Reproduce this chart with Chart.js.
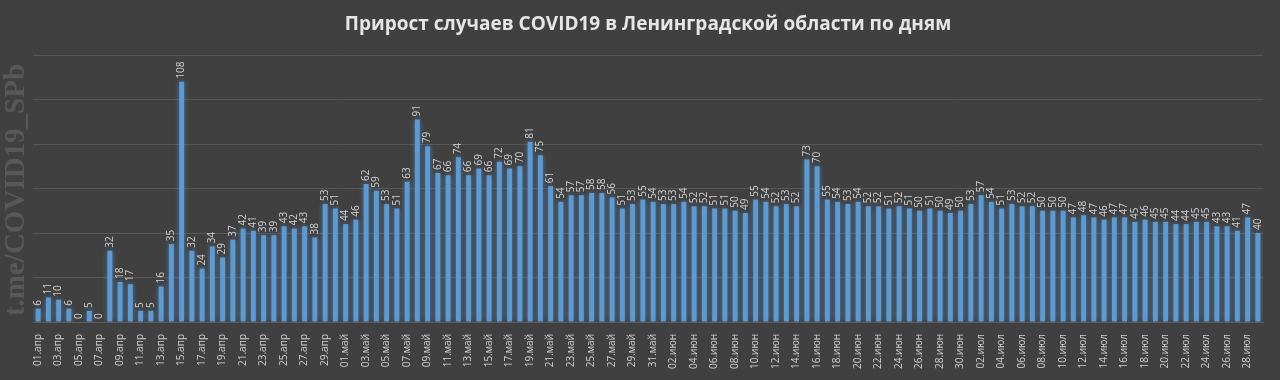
<!DOCTYPE html>
<html>
<head>
<meta charset="utf-8">
<script src="https://cdn.jsdelivr.net/npm/chart.js@4.4.1/dist/chart.umd.min.js"></script>
<style>
  html, body { margin: 0; padding: 0; background: #404040; }
  #wrap { width: 1280px; height: 380px; }
</style>
</head>
<body>
<div id="wrap"><canvas id="c" width="1280" height="380"></canvas></div>
<script>
const titleText = 'Прирост случаев COVID19 в Ленинградской области по дням';
const watermarkText = 't.me/COVID19_SPb';

const labelsApr = ['01.апр','02.апр','03.апр','04.апр','05.апр','06.апр','07.апр','08.апр','09.апр','10.апр',
  '11.апр','12.апр','13.апр','14.апр','15.апр','16.апр','17.апр','18.апр','19.апр','20.апр',
  '21.апр','22.апр','23.апр','24.апр','25.апр','26.апр','27.апр','28.апр','29.апр','30.апр'];
const labelsMay = ['01.май','02.май','03.май','04.май','05.май','06.май','07.май','08.май','09.май','10.май',
  '11.май','12.май','13.май','14.май','15.май','16.май','17.май','18.май','19.май','20.май',
  '21.май','22.май','23.май','24.май','25.май','26.май','27.май','28.май','29.май','30.май','31.май'];
const labelsJun = ['01.июн','02.июн','03.июн','04.июн','05.июн','06.июн','07.июн','08.июн','09.июн','10.июн',
  '11.июн','12.июн','13.июн','14.июн','15.июн','16.июн','17.июн','18.июн','19.июн','20.июн',
  '21.июн','22.июн','23.июн','24.июн','25.июн','26.июн','27.июн','28.июн','29.июн','30.июн'];
const labelsJul = ['01.июл','02.июл','03.июл','04.июл','05.июл','06.июл','07.июл','08.июл','09.июл','10.июл',
  '11.июл','12.июл','13.июл','14.июл','15.июл','16.июл','17.июл','18.июл','19.июл','20.июл',
  '21.июл','22.июл','23.июл','24.июл','25.июл','26.июл','27.июл','28.июл','29.июл'];

const valuesApr = [6,11,10,6,0,5,0,32,18,17,5,5,16,35,108,32,24,34,29,37,42,41,39,39,43,42,43,38,53,51];
const valuesMay = [44,46,62,59,53,51,63,91,79,67,66,74,66,69,66,72,69,70,81,75,61,54,57,57,58,58,56,51,53,55,54];
const valuesJun = [53,53,54,52,52,51,51,50,49,55,54,52,53,52,73,70,55,54,53,54,52,52,51,52,51,50,51,50,49,50];
const valuesJul = [53,57,54,51,53,52,52,50,50,50,47,48,47,46,47,47,45,46,45,45,44,44,45,45,43,43,41,47,40];

const categories = [].concat(labelsApr, labelsMay, labelsJun, labelsJul);
const values = [].concat(valuesApr, valuesMay, valuesJun, valuesJul);

const bgPlugin = {
  id: 'bg',
  beforeDraw(chart) {
    const ctx = chart.ctx;
    ctx.save();
    ctx.fillStyle = '#404040';
    ctx.fillRect(0, 0, chart.width, chart.height);
    ctx.translate(17, 190);
    ctx.rotate(-Math.PI / 2);
    ctx.font = 'bold 29px "Liberation Serif"';
    ctx.fillStyle = '#585858';
    ctx.textAlign = 'center';
    ctx.textBaseline = 'middle';
    ctx.fillText(watermarkText, 0, 0);
    ctx.restore();
  }
};

const glowPlugin = {
  id: 'glow',
  beforeDatasetDraw(chart) {
    const ctx = chart.ctx;
    ctx.save();
    ctx.shadowColor = 'rgba(100,170,235,0.55)';
    ctx.shadowBlur = 5;
  },
  afterDatasetDraw(chart) {
    chart.ctx.restore();
  }
};

const labelPlugin = {
  id: 'vlabels',
  afterDatasetsDraw(chart) {
    const ctx = chart.ctx;
    const meta = chart.getDatasetMeta(0);
    ctx.save();
    ctx.font = '10px "Open Sans"';
    ctx.fillStyle = '#d2d2d2';
    ctx.textAlign = 'left';
    ctx.textBaseline = 'middle';
    meta.data.forEach((bar, i) => {
      ctx.save();
      ctx.translate(bar.x, bar.y - 3);
      ctx.rotate(-Math.PI / 2);
      ctx.fillText(String(values[i]), 0, 0);
      ctx.restore();
    });
    ctx.restore();
  }
};

new Chart(document.getElementById('c'), {
  type: 'bar',
  data: {
    labels: categories,
    datasets: [{
      data: values,
      backgroundColor: '#5b9bd5',
      borderWidth: 0,
      categoryPercentage: 1.0,
      barPercentage: 0.48
    }]
  },
  options: {
    responsive: false,
    devicePixelRatio: 1,
    animation: false,
    layout: { padding: { left: 33, right: 17, top: 0, bottom: 0 } },
    plugins: {
      legend: { display: false },
      tooltip: { enabled: false },
      title: {
        display: true,
        text: titleText,
        color: '#e6e6e6',
        font: { family: '"Open Sans"', size: 19, weight: 'bold' },
        padding: { top: 13, bottom: 19.2 }
      }
    },
    scales: {
      x: {
        grid: { display: false },
        border: { display: true, color: '#5c5c5c' },
        ticks: {
          autoSkip: false,
          maxRotation: 90,
          minRotation: 90,
          color: '#cfcfcf',
          padding: 4,
          font: { family: '"Open Sans"', size: 10 },
          callback: (v, i) => (i % 2 === 0 ? categories[i] : '')
        },
        afterFit(scale) { scale.height = 58; }
      },
      y: {
        min: 0,
        max: 120,
        ticks: { display: false, stepSize: 20 },
        border: { display: false },
        grid: { color: '#575757', drawTicks: false }
      }
    }
  },
  plugins: [bgPlugin, glowPlugin, labelPlugin]
});
</script>
</body>
</html>
